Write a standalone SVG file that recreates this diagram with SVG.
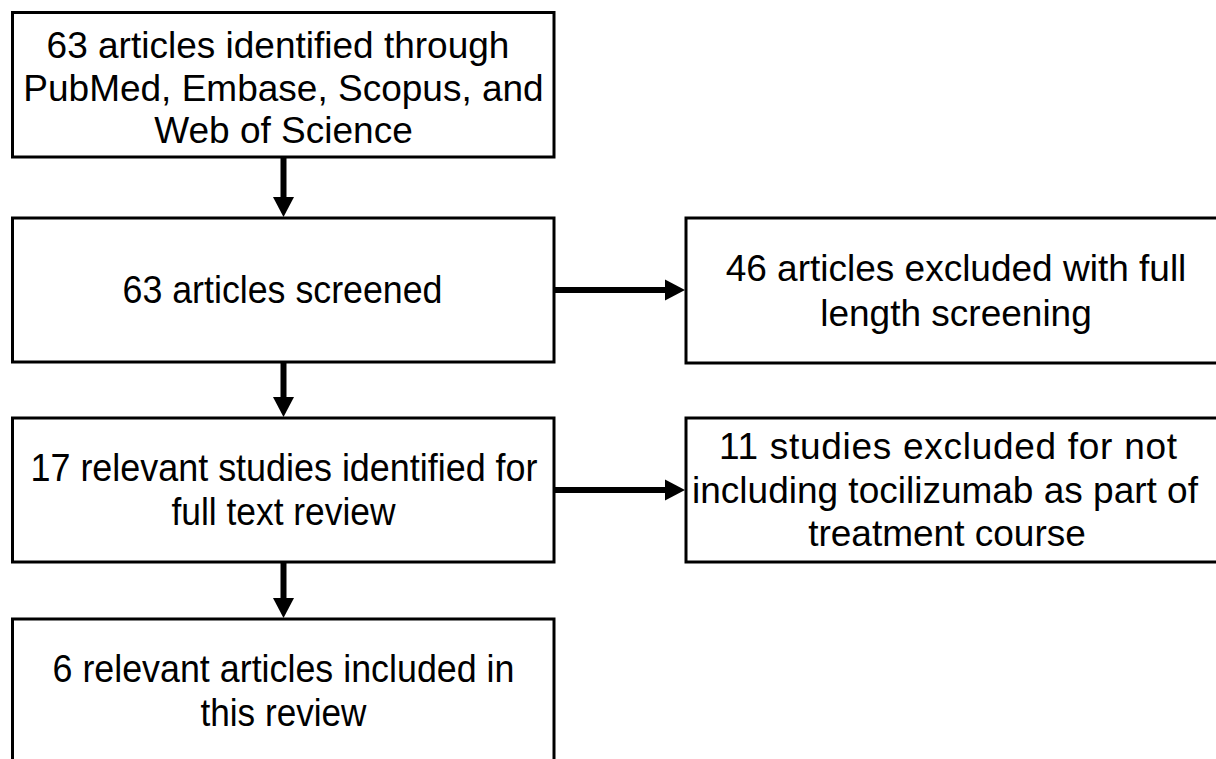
<svg xmlns="http://www.w3.org/2000/svg" width="1216" height="759" viewBox="0 0 1216 759">
<defs>
<style>
.box{fill:#fff;stroke:#000;stroke-width:3}
.t{font-family:"Liberation Sans",Arial,sans-serif;font-size:37px;fill:#000;text-anchor:middle}
.k{font-size:38px}
.c{stroke:#000;stroke-width:6;fill:none}
.h{fill:#000;stroke:none}
</style>
</defs>
<rect width="1216" height="759" fill="#fff"/>
<g id="n1"><rect class="box" x="12.5" y="12.5" width="541.5" height="144.5"/>
<text class="t" x="278" y="58">63 articles identified through</text>
<text class="t" x="283.5" y="101">PubMed, Embase, Scopus, and</text>
<text class="t" x="283.5" y="143">Web of Science</text></g>
<g id="n2"><rect class="box" x="12.5" y="218" width="541.5" height="144"/>
<text class="t k" x="282.5" y="303" textLength="320" lengthAdjust="spacingAndGlyphs">63 articles screened</text></g>
<g id="n3"><rect class="box" x="686" y="218" width="545" height="145"/>
<text class="t" x="956" y="281">46 articles excluded with full</text>
<text class="t" x="956" y="326">length screening</text></g>
<g id="n4"><rect class="box" x="12.5" y="418" width="541.5" height="144"/>
<text class="t k" x="284" y="481" textLength="507" lengthAdjust="spacingAndGlyphs">17 relevant studies identified for</text>
<text class="t k" x="283.5" y="525" textLength="224" lengthAdjust="spacingAndGlyphs">full text review</text></g>
<g id="n5"><rect class="box" x="686" y="418" width="545" height="144"/>
<text class="t" x="948" y="459" textLength="458" lengthAdjust="spacing">11 studies excluded for not</text>
<text class="t" x="945" y="503">including tocilizumab as part of</text>
<text class="t" x="947" y="546">treatment course</text></g>
<g id="n6"><rect class="box" x="12.5" y="619" width="541.5" height="160"/>
<text class="t k" x="283.5" y="682" textLength="462" lengthAdjust="spacingAndGlyphs">6 relevant articles included in</text>
<text class="t k" x="283.5" y="726" textLength="166" lengthAdjust="spacingAndGlyphs">this review</text></g>
<g id="connectors">
<line class="c" x1="283.5" y1="157" x2="283.5" y2="198"/>
<polygon class="h" points="273,197 294,197 283.5,217"/>
<line class="c" x1="283.5" y1="362" x2="283.5" y2="398"/>
<polygon class="h" points="273,397 294,397 283.5,417"/>
<line class="c" x1="283.5" y1="562" x2="283.5" y2="599"/>
<polygon class="h" points="273,598 294,598 283.5,618"/>
<line class="c" x1="554" y1="290" x2="667" y2="290"/>
<polygon class="h" points="665,279.5 665,300.5 685,290"/>
<line class="c" x1="554" y1="490" x2="667" y2="490"/>
<polygon class="h" points="665,479.5 665,500.5 685,490"/>
</g>
</svg>
